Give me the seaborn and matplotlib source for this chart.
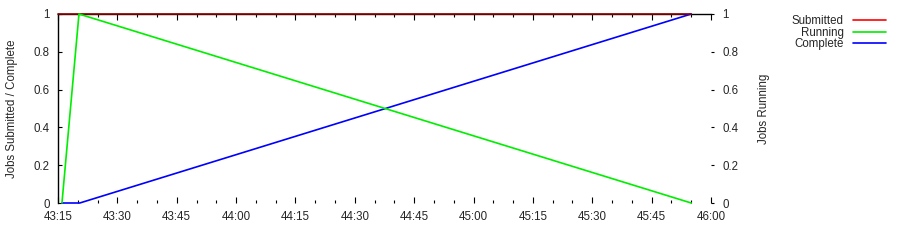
import matplotlib
matplotlib.use("Agg")
import matplotlib.pyplot as plt
import seaborn as sns
import pandas as pd
from matplotlib.lines import Line2D
from matplotlib.ticker import MultipleLocator, FuncFormatter

# Time in seconds after 43:00
submitted_t = [15, 175]
submitted_v = [1, 1]
running_t = [16, 20.3, 175]
running_v = [0, 1, 0]
complete_t = [16, 20.5, 175]
complete_v = [0, 0, 1]
series_names = ["Submitted", "Running", "Complete"]

sns.set_theme(style="white")
plt.rcParams['font.family'] = ['Liberation Sans', 'DejaVu Sans']
plt.rcParams['font.size'] = 8.3

fig = plt.figure(figsize=(9, 2.52), dpi=100)
ax = fig.add_axes([58/900, 1-203/252, (711-58)/900, (203-14)/252])
ax2 = ax.twinx()

df_sub = pd.DataFrame({"t": submitted_t, "v": submitted_v})
df_run = pd.DataFrame({"t": running_t, "v": running_v})
df_com = pd.DataFrame({"t": complete_t, "v": complete_v})

sns.lineplot(data=df_sub, x="t", y="v", ax=ax, color="#8b0000", lw=1.2, zorder=5, clip_on=False)
sns.lineplot(data=df_com, x="t", y="v", ax=ax, color="#0000ff", lw=1.2, zorder=4, clip_on=False)
sns.lineplot(data=df_run, x="t", y="v", ax=ax2, color="#00ee00", lw=1.2, zorder=4, clip_on=False)

for a in (ax, ax2):
    a.set_xlim(15, 180)
    a.set_ylim(0, 1)
    a.set_xlabel("")
    a.set_ylabel("")
    for s in ("bottom", "right", "left", "top"):
        a.spines[s].set_visible(False)

ax.spines["left"].set_visible(True)
ax.spines["top"].set_visible(True)
ax.spines["left"].set_color("black")
ax.spines["top"].set_color("black")
ax.spines["left"].set_linewidth(1)
ax.spines["top"].set_linewidth(1)

def fmt(s, pos):
    s = int(round(s))
    return f"{43 + s // 60}:{s % 60:02d}"

ax.xaxis.set_major_locator(MultipleLocator(15))
ax.xaxis.set_minor_locator(MultipleLocator(5))
ax.xaxis.set_major_formatter(FuncFormatter(fmt))
ax.tick_params(axis="x", which="major", direction="in", length=4, width=0.8, color="black",
               top=True, bottom=True, labelsize=8.3, pad=5.5)
ax.tick_params(axis="x", which="minor", direction="in", length=2, width=0.8, color="black",
               top=True, bottom=True)

ax.set_yticks([0, 0.2, 0.4, 0.6, 0.8, 1])
ax.set_yticklabels(["0", "0.2", "0.4", "0.6", "0.8", "1"])
ax.tick_params(axis="y", direction="in", length=3, width=0.8, color="black", left=True, labelsize=8.3, pad=6)
ax2.set_yticks([0, 0.2, 0.4, 0.6, 0.8, 1])
ax2.set_yticklabels(["0", "0.2", "0.4", "0.6", "0.8", "1"])
ax2.tick_params(axis="y", direction="out", length=2, width=0.8, color="black", right=True, labelsize=8.3, pad=6)

ax.set_ylabel("Jobs Submitted / Complete", fontsize=8.3, labelpad=11)
ax2.set_ylabel("Jobs Running", fontsize=8.3, labelpad=14)

colors = ["#ff0000", "#00ee00", "#0000ff"]
handles = [Line2D([], [], color=c, lw=1.2) for c in colors]
fig.legend(handles, series_names, loc="upper left", bbox_to_anchor=(792/900, 1-15/252),
           frameon=False, markerfirst=False, handlelength=2.8, handletextpad=0.8,
           labelspacing=-0.04, fontsize=8.3, borderpad=0, borderaxespad=0)
leg = fig.legends[0]
for t in leg.get_texts():
    t.set_ha("right")

fig.savefig("out.png", dpi=100)
